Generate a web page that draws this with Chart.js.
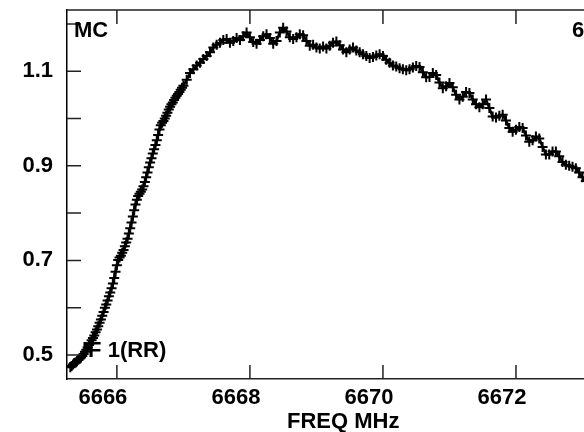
<!DOCTYPE html>
<html>
<head>
<meta charset="utf-8">
<script src="https://cdn.jsdelivr.net/npm/chart.js@4"></script>
<style>
  html, body { margin: 0; padding: 0; overflow: hidden; background: #fff; }
  #wrap { width: 584px; height: 432px; overflow: hidden; }
</style>
</head>
<body>
<div id="wrap"><canvas id="chart1" width="700" height="432"></canvas></div>
<script>
// channel frequencies (MHz), finer channels on the steep rising edge
const freq = [
  6665.30, 6665.32, 6665.34, 6665.36, 6665.38, 6665.40, 6665.42, 6665.44, 6665.46, 6665.48,
  6665.50, 6665.52, 6665.54, 6665.56, 6665.58, 6665.60, 6665.62, 6665.64, 6665.66, 6665.68,
  6665.70, 6665.72, 6665.74, 6665.76, 6665.78, 6665.80, 6665.82, 6665.84, 6665.86, 6665.88,
  6665.90, 6665.92, 6665.94, 6665.96, 6665.98, 6666.00, 6666.02, 6666.04, 6666.06, 6666.08,
  6666.10, 6666.12, 6666.14, 6666.16, 6666.18, 6666.20, 6666.22, 6666.24, 6666.26, 6666.28,
  6666.30, 6666.32, 6666.34, 6666.36, 6666.38, 6666.40, 6666.42, 6666.44, 6666.46, 6666.48,
  6666.50, 6666.52, 6666.54, 6666.56, 6666.58, 6666.60, 6666.62, 6666.64, 6666.66, 6666.68,
  6666.70, 6666.72, 6666.74, 6666.76, 6666.78, 6666.80, 6666.82, 6666.84, 6666.86, 6666.88,
  6666.90, 6666.92, 6666.94, 6666.96, 6666.98, 6667.00,
  6667.05, 6667.10, 6667.15, 6667.20, 6667.25, 6667.30, 6667.35, 6667.40, 6667.45, 6667.50,
  6667.55, 6667.60, 6667.65, 6667.70, 6667.75, 6667.80, 6667.85, 6667.90, 6667.95, 6668.00,
  6668.05, 6668.10, 6668.15, 6668.20, 6668.25, 6668.30, 6668.35, 6668.40, 6668.45, 6668.50,
  6668.55, 6668.60, 6668.65, 6668.70, 6668.75, 6668.80, 6668.85, 6668.90, 6668.95, 6669.00,
  6669.05, 6669.10, 6669.15, 6669.20, 6669.25, 6669.30, 6669.35, 6669.40, 6669.45, 6669.50,
  6669.55, 6669.60, 6669.65, 6669.70, 6669.75, 6669.80, 6669.85, 6669.90, 6669.95, 6670.00,
  6670.05, 6670.10, 6670.15, 6670.20, 6670.25, 6670.30, 6670.35, 6670.40, 6670.45, 6670.50,
  6670.55, 6670.60, 6670.65, 6670.70, 6670.75, 6670.80, 6670.85, 6670.90, 6670.95, 6671.00,
  6671.05, 6671.10, 6671.15, 6671.20, 6671.25, 6671.30, 6671.35, 6671.40, 6671.45, 6671.50,
  6671.55, 6671.60, 6671.65, 6671.70, 6671.75, 6671.80, 6671.85, 6671.90, 6671.95, 6672.00,
  6672.05, 6672.10, 6672.15, 6672.20, 6672.25, 6672.30, 6672.35, 6672.40, 6672.45, 6672.50,
  6672.55, 6672.60, 6672.65, 6672.70, 6672.75, 6672.80, 6672.85, 6672.90, 6672.95, 6673.00,
  6673.05, 6673.10, 6673.15, 6673.20
];

// amplitude
const amp = [
  0.474, 0.477, 0.480, 0.483, 0.484, 0.487, 0.490, 0.492, 0.495, 0.498,
  0.502, 0.507, 0.511, 0.516, 0.521, 0.525, 0.531, 0.536, 0.541, 0.548,
  0.554, 0.561, 0.568, 0.575, 0.583, 0.591, 0.600, 0.607, 0.615, 0.624,
  0.632, 0.641, 0.651, 0.663, 0.676, 0.690, 0.701, 0.706, 0.710, 0.716,
  0.722, 0.730, 0.738, 0.746, 0.757, 0.768, 0.780, 0.793, 0.806, 0.818,
  0.828, 0.836, 0.841, 0.845, 0.850, 0.857, 0.866, 0.876, 0.886, 0.897,
  0.907, 0.916, 0.926, 0.935, 0.944, 0.954, 0.965, 0.977, 0.986, 0.991,
  0.995, 1.000, 1.006, 1.012, 1.019, 1.025, 1.030, 1.034, 1.039, 1.044,
  1.048, 1.052, 1.056, 1.061, 1.065, 1.069,
  1.082, 1.096, 1.104, 1.112, 1.118, 1.126, 1.132, 1.140, 1.150, 1.156,
  1.160, 1.166, 1.168, 1.160, 1.164, 1.170, 1.166, 1.174, 1.182, 1.172,
  1.162, 1.158, 1.166, 1.174, 1.178, 1.170, 1.158, 1.164, 1.182, 1.192,
  1.184, 1.172, 1.168, 1.172, 1.178, 1.176, 1.164, 1.154, 1.156, 1.150,
  1.148, 1.152, 1.148, 1.154, 1.160, 1.163, 1.155, 1.146, 1.140, 1.146,
  1.150, 1.144, 1.140, 1.136, 1.132, 1.128, 1.130, 1.133, 1.136, 1.132,
  1.124, 1.118, 1.112, 1.110, 1.106, 1.104, 1.102, 1.104, 1.108, 1.111,
  1.109, 1.098, 1.087, 1.088, 1.096, 1.092, 1.076, 1.064, 1.068, 1.075,
  1.066, 1.050, 1.040, 1.046, 1.056, 1.054, 1.040, 1.030, 1.024, 1.030,
  1.040, 1.022, 1.004, 1.002, 1.006, 1.008, 0.996, 0.980, 0.972, 0.976,
  0.982, 0.980, 0.964, 0.951, 0.954, 0.962, 0.958, 0.940, 0.924, 0.924,
  0.930, 0.930, 0.920, 0.908, 0.902, 0.900, 0.898, 0.895, 0.886, 0.876,
  0.868, 0.862, 0.858, 0.850
];

const yTickLabels = ["0.5", "0.7", "0.9", "1.1"];
const xTickLabels = ["6666", "6668", "6670", "6672"];

const points = freq.map((f, i) => ({ x: f, y: amp[i] }));
const font = { family: "'Liberation Sans', Arial, sans-serif", size: 22, weight: "bold" };

// inward ticks, top frame line and free text
const frame = {
  id: "frame",
  afterDatasetsDraw(chart) {
    const ctx = chart.ctx;
    const a = chart.chartArea;
    const xs = chart.scales.x, ys = chart.scales.y;
    ctx.save();
    ctx.strokeStyle = "#222";
    ctx.lineWidth = 1.5;
    ctx.beginPath();
    ctx.moveTo(a.left, a.top);
    ctx.lineTo(a.right, a.top);
    ys.ticks.forEach(t => {
      const py = ys.getPixelForValue(t.value);
      ctx.moveTo(a.left, py);
      ctx.lineTo(a.left + 14, py);
    });
    xs.ticks.forEach(t => {
      const px = xs.getPixelForValue(t.value);
      ctx.moveTo(px, a.bottom);
      ctx.lineTo(px, a.bottom - 14);
      ctx.moveTo(px, a.top);
      ctx.lineTo(px, a.top + 14);
    });
    ctx.stroke();

    ctx.fillStyle = "#000";
    ctx.font = "bold 22px 'Liberation Sans', Arial, sans-serif";
    ctx.textBaseline = "alphabetic";
    ctx.textAlign = "left";
    ctx.fillText("MC", 74, 37);
    ctx.fillText("6", 572, 37);
    ctx.fillText("IF 1(RR)", 82, 357);
    ctx.fillText("FREQ MHz", 287, 428);
    ctx.restore();
  }
};

new Chart(document.getElementById("chart1"), {
  type: "line",
  data: {
    datasets: [{
      data: points,
      borderColor: "#000",
      borderWidth: 2.5,
      pointStyle: "cross",
      pointRadius: 5,
      pointBorderWidth: 2,
      pointBorderColor: "#000",
      pointBackgroundColor: "#000",
      tension: 0
    }]
  },
  options: {
    responsive: false,
    animation: false,
    devicePixelRatio: 1,
    layout: { padding: { top: 10, right: 51, left: 0, bottom: 0 } },
    plugins: { legend: { display: false }, tooltip: { enabled: false } },
    scales: {
      x: {
        type: "linear",
        min: 6665.25,
        max: 6674.0,
        afterFit(scale) {
          scale.height = 53;
          scale.paddingLeft = 0;
          scale.paddingRight = 0;
        },
        grid: { display: false, drawTicks: false },
        border: { display: true, color: "#222", width: 1.5 },
        ticks: {
          stepSize: 2,
          includeBounds: false,
          padding: 6,
          labelOffset: -14,
          color: "#000",
          font: font,
          maxRotation: 0,
          autoSkip: false,
          callback: v => {
            const s = String(Math.round(v));
            return xTickLabels.includes(s) ? s : "";
          }
        }
      },
      y: {
        min: 0.4493,
        max: 1.2294,
        afterFit(scale) {
          scale.width = 67;
          scale.paddingTop = 0;
          scale.paddingBottom = 0;
        },
        grid: { display: false, drawTicks: false },
        border: { display: true, color: "#000", width: 1.5 },
        ticks: {
          stepSize: 0.1,
          includeBounds: false,
          padding: 14,
          color: "#000",
          font: font,
          autoSkip: false,
          callback: v => {
            const s = (Math.round(v * 10) / 10).toFixed(1);
            return yTickLabels.includes(s) ? s : "";
          }
        }
      }
    }
  },
  plugins: [frame]
});
</script>
</body>
</html>
